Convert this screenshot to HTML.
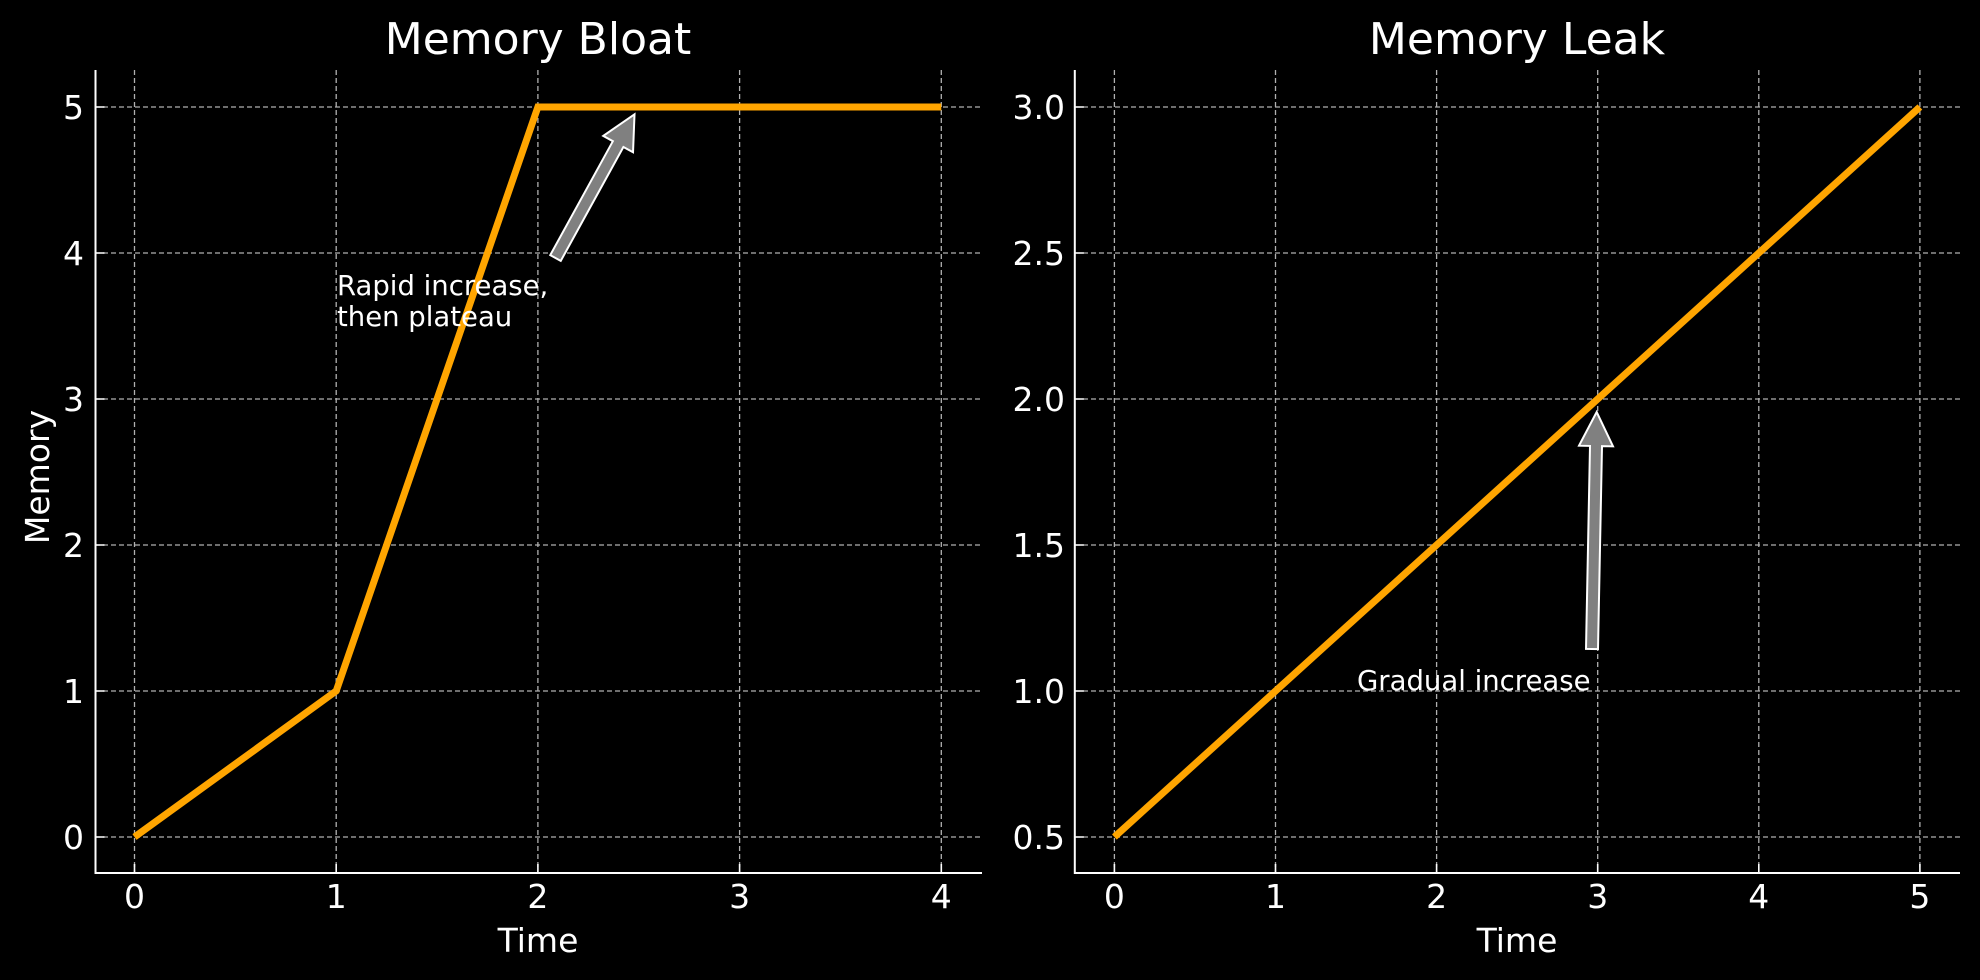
<!DOCTYPE html>
<html><head><meta charset="utf-8"><style>
html,body{margin:0;padding:0;background:#000;}
svg{display:block;font-family:"DejaVu Sans","Liberation Sans",sans-serif;}
</style></head><body>
<svg width="1980" height="980" viewBox="0 0 1980 980" xmlns="http://www.w3.org/2000/svg">
<rect width="1980" height="980" fill="#000"/>
<g stroke="#b0b0b0" stroke-width="1.3" stroke-dasharray="5,3" fill="none">
<line x1="134.5" y1="70" x2="134.5" y2="873"/>
<line x1="336.2" y1="70" x2="336.2" y2="873"/>
<line x1="537.9" y1="70" x2="537.9" y2="873"/>
<line x1="739.6" y1="70" x2="739.6" y2="873"/>
<line x1="941.3" y1="70" x2="941.3" y2="873"/>
<line x1="95" y1="837" x2="982" y2="837"/>
<line x1="95" y1="691" x2="982" y2="691"/>
<line x1="95" y1="545" x2="982" y2="545"/>
<line x1="95" y1="399" x2="982" y2="399"/>
<line x1="95" y1="253" x2="982" y2="253"/>
<line x1="95" y1="107" x2="982" y2="107"/>
<line x1="1114.4" y1="70" x2="1114.4" y2="873"/>
<line x1="1275.5" y1="70" x2="1275.5" y2="873"/>
<line x1="1436.6" y1="70" x2="1436.6" y2="873"/>
<line x1="1597.7" y1="70" x2="1597.7" y2="873"/>
<line x1="1758.8" y1="70" x2="1758.8" y2="873"/>
<line x1="1919.9" y1="70" x2="1919.9" y2="873"/>
<line x1="1075" y1="837" x2="1960" y2="837"/>
<line x1="1075" y1="691" x2="1960" y2="691"/>
<line x1="1075" y1="545" x2="1960" y2="545"/>
<line x1="1075" y1="399" x2="1960" y2="399"/>
<line x1="1075" y1="253" x2="1960" y2="253"/>
<line x1="1075" y1="107" x2="1960" y2="107"/>
</g>
<!-- spines -->
<g stroke="#fff" stroke-width="2" fill="none">
<polyline points="95.5,70 95.5,873 982,873"/>
<polyline points="1074.8,70 1074.8,873 1960,873"/>
</g>
<!-- inward ticks -->
<g stroke="#fff" stroke-width="1.6">
<path d="M134.5,873v-9M336.2,873v-9M537.9,873v-9M739.6,873v-9M941.3,873v-9
M95.5,837h9M95.5,691h9M95.5,545h9M95.5,399h9M95.5,253h9M95.5,107h9
M1114.4,873v-9M1275.5,873v-9M1436.6,873v-9M1597.7,873v-9M1758.8,873v-9M1919.9,873v-9
M1074.8,837h9M1074.8,691h9M1074.8,545h9M1074.8,399h9M1074.8,253h9M1074.8,107h9"/>
</g>
<!-- data -->
<g stroke="#ffa500" stroke-width="7" fill="none">
<polyline points="134.5,837 336.2,691 537.9,107 941.3,107"/>
<polyline points="1114.4,837 1919.9,107"/>
</g>
<!-- arrows -->
<g fill="#808080" stroke="#fff" stroke-width="2">
<polygon transform="translate(555.5,258) rotate(-61.2)" points="0,-6 130,-6 130,-17 164,0 130,17 130,6 0,6"/>
<polygon transform="translate(1592,649) rotate(-88.87)" points="0,-6 203,-6 203,-17 237,0 203,17 203,6 0,6"/>
</g>
<!-- text -->
<g fill="#fff">
<text x="538" y="54" font-size="44" text-anchor="middle">Memory Bloat</text>
<text x="1517" y="54" font-size="44" text-anchor="middle">Memory Leak</text>
<g font-size="33" text-anchor="middle">
<text x="134.5" y="908">0</text><text x="336.2" y="908">1</text><text x="537.9" y="908">2</text><text x="739.6" y="908">3</text><text x="941.3" y="908">4</text>
<text x="1114.4" y="908">0</text><text x="1275.5" y="908">1</text><text x="1436.6" y="908">2</text><text x="1597.7" y="908">3</text><text x="1758.8" y="908">4</text><text x="1919.9" y="908">5</text>
<text x="538" y="952">Time</text><text x="1517" y="952">Time</text>
</g>
<g font-size="33" text-anchor="end">
<text x="84" y="849">0</text><text x="84" y="703">1</text><text x="84" y="557">2</text><text x="84" y="411">3</text><text x="84" y="265">4</text><text x="84" y="119">5</text>
<text x="1065" y="849">0.5</text><text x="1065" y="703">1.0</text><text x="1065" y="557">1.5</text><text x="1065" y="411">2.0</text><text x="1065" y="265">2.5</text><text x="1065" y="119">3.0</text>
</g>
<text font-size="33" text-anchor="middle" transform="translate(49,477) rotate(-90)">Memory</text>
<g font-size="27.5">
<text x="337" y="295">Rapid increase,</text>
<text x="337" y="326">then plateau</text>
<text x="1357" y="690">Gradual increase</text>
</g>
</g>
</svg>
</body></html>
